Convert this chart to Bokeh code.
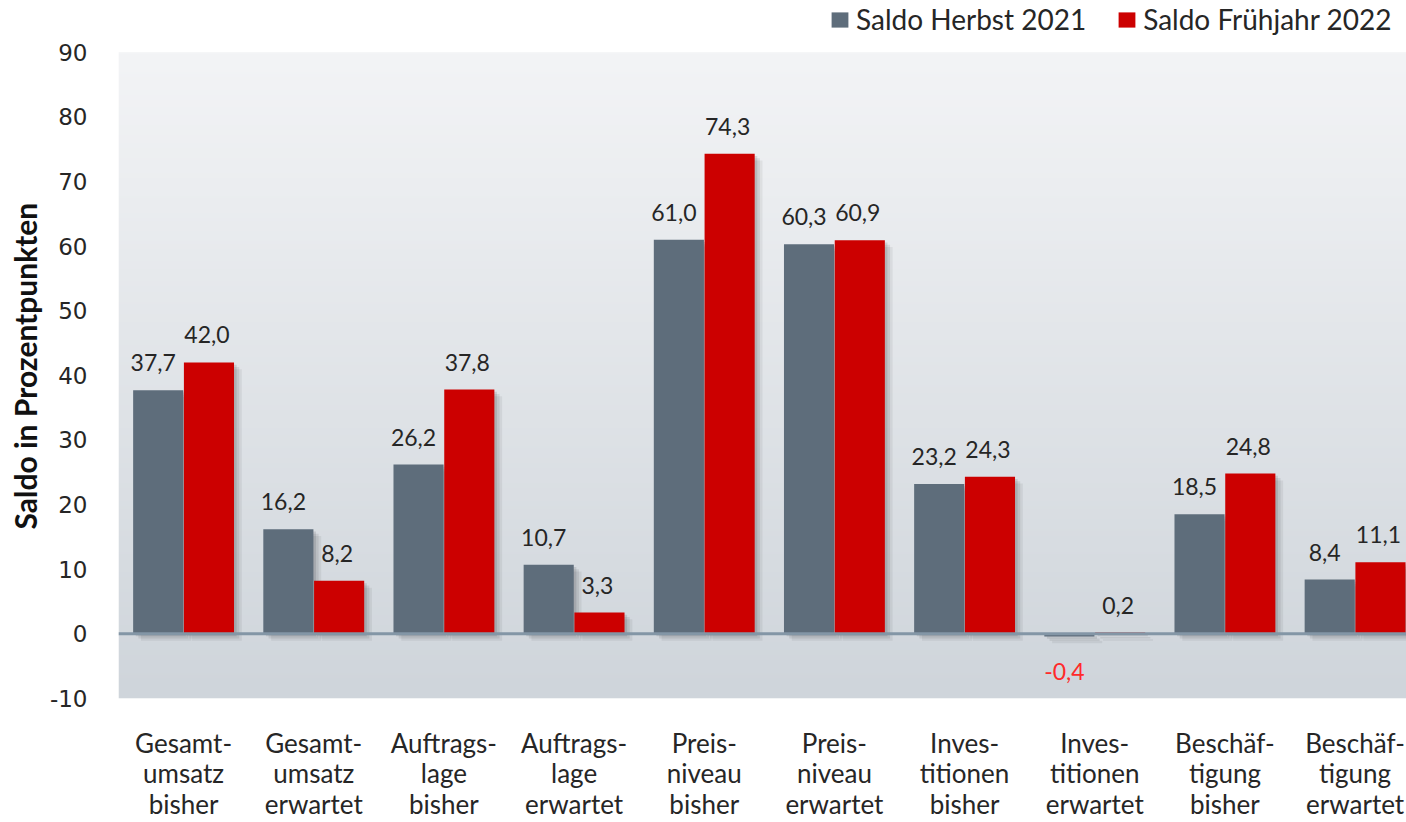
import numpy as np
from bokeh.plotting import figure
from bokeh.models import (ColumnDataSource, Legend, LegendItem, FixedTicker,
                          Span, Range1d, Title)
from bokeh.transform import dodge
from bokeh.core.properties import value
from bokeh.embed import file_html
from bokeh.resources import INLINE

# ---------------- data ----------------
categories = [
    "Gesamt-\numsatz\nbisher", "Gesamt-\numsatz\nerwartet",
    "Auftrags-\nlage\nbisher", "Auftrags-\nlage\nerwartet",
    "Preis-\nniveau\nbisher", "Preis-\nniveau\nerwartet",
    "Inves-\ntitionen\nbisher", "Inves-\ntitionen\nerwartet",
    "Beschäf-\ntigung\nbisher", "Beschäf-\ntigung\nerwartet",
]
herbst_2021 = [37.7, 16.2, 26.2, 10.7, 61.0, 60.3, 23.2, -0.4, 18.5, 8.4]
fruehjahr_2022 = [42.0, 8.2, 37.8, 3.3, 74.3, 60.9, 24.3, 0.2, 24.8, 11.1]
series_names = ["Saldo Herbst 2021", "Saldo Frühjahr 2022"]
y_ticks = [-10, 0, 10, 20, 30, 40, 50, 60, 70, 80, 90]
y_tick_labels = ["-10", "0", "10", "20", "30", "40", "50", "60", "70", "80", "90"]
y_title = "Saldo in Prozentpunkten"

GRAY = "#5e6d7b"
RED = "#cc0000"
TXT = "#262626"
LBL_FONT = value("Lato")

n = len(categories)
xc = [i + 0.5 for i in range(n)]
OFF = 0.195
BW = 0.385
Y_MIN, Y_MAX = y_ticks[0], y_ticks[-1]

# frame spans the whole top of the canvas; the shaded plot area is -10..90
p = figure(width=1406, height=822,
           x_range=Range1d(0, 9.895), y_range=Range1d(-10, 98.0),
           output_backend="svg", toolbar_location=None,
           min_border_left=117, min_border_right=0,
           min_border_top=0, min_border_bottom=120)
p.outline_line_color = None
p.border_fill_color = "white"
p.background_fill_color = "white"

# background gradient for the plot area
N = 256
t = np.linspace(0, 1, N)
bot = np.array([0xcf, 0xd5, 0xdb], dtype=float)
top = np.array([0xf3, 0xf4, 0xf6], dtype=float)
cols = bot + (top - bot) * t[:, None]
img = np.zeros((N, 1), dtype=np.uint32)
view = img.view(dtype=np.uint8).reshape((N, 1, 4))
view[:, 0, 0] = cols[:, 0]
view[:, 0, 1] = cols[:, 1]
view[:, 0, 2] = cols[:, 2]
view[:, 0, 3] = 255
p.image_rgba(image=[img], x=0, y=Y_MIN, dw=10, dh=Y_MAX - Y_MIN)

# grids
p.xgrid.ticker = FixedTicker(ticks=list(range(1, n)))
p.xgrid.grid_line_color = "white"
p.xgrid.grid_line_width = 3
p.ygrid.ticker = FixedTicker(ticks=y_ticks)
p.ygrid.grid_line_color = "white"
p.ygrid.grid_line_alpha = 0.5
p.ygrid.grid_line_width = 1.5

h = np.array(herbst_2021)
f = np.array(fruehjahr_2022)
src = ColumnDataSource(dict(x=xc, h=h, f=f))

# soft shadows
for dx, dy, a in [(0.02, 0.35, 0.10), (0.04, 0.7, 0.08), (0.06, 1.05, 0.06)]:
    for vals, off in ((h, -OFF), (f, OFF)):
        s = ColumnDataSource(dict(x=[v + off + dx for v in xc],
                                  top=np.maximum(vals, 0) - dy,
                                  bottom=np.minimum(vals, 0) - dy))
        p.vbar(x="x", top="top", bottom="bottom", width=BW, source=s,
               fill_color="black", fill_alpha=a, line_color=None)

r1 = p.vbar(x=dodge("x", -OFF, range=p.x_range), top="h", bottom=0, width=BW,
            source=src, fill_color=GRAY, line_color=None)
r2 = p.vbar(x=dodge("x", OFF, range=p.x_range), top="f", bottom=0, width=BW,
            source=src, fill_color=RED, line_color=None)

p.add_layout(Span(location=0, dimension="width", line_color="#8396a6",
                  line_width=3))

# value labels
def fmt(v):
    return f"{v:.1f}".replace(".", ",")

for vals, off, xo in ((h, -OFF, -5), (f, OFF, -2)):
    pos = [i for i in range(n) if vals[i] >= 0]
    neg = [i for i in range(n) if vals[i] < 0]
    sp = ColumnDataSource(dict(x=[xc[i] + off for i in pos],
                               y=[vals[i] for i in pos],
                               t=[fmt(vals[i]) for i in pos]))
    p.text(x="x", y="y", text="t", source=sp, x_offset=xo, y_offset=-19,
           text_align="center", text_baseline="bottom",
           text_font=LBL_FONT, text_font_size="23px", text_color=TXT)
    if neg:
        sn = ColumnDataSource(dict(x=[xc[i] + off for i in neg],
                                   y=[vals[i] for i in neg],
                                   t=[fmt(vals[i]) for i in neg]))
        p.text(x="x", y="y", text="t", source=sn, x_offset=xo, y_offset=27,
               text_align="center", text_baseline="top",
               text_font=LBL_FONT, text_font_size="23px", text_color="#ff2a2a")

# axes
p.xaxis.ticker = FixedTicker(ticks=xc)
p.xaxis.major_label_overrides = {x: c for x, c in zip(xc, categories)}
p.xaxis.axis_line_color = None
p.xaxis.major_tick_line_color = None
p.xaxis.minor_tick_line_color = None
p.xaxis.major_label_standoff = 22
p.xaxis.major_label_text_font = "Lato"
p.xaxis.major_label_text_font_size = "26px"
p.xaxis.major_label_text_line_height = 0.96
p.xaxis.major_label_text_color = TXT

p.yaxis.ticker = FixedTicker(ticks=y_ticks)
p.yaxis.major_label_overrides = {v: s for v, s in zip(y_ticks, y_tick_labels)}
p.yaxis.axis_line_color = None
p.yaxis.major_tick_line_color = None
p.yaxis.minor_tick_line_color = None
p.yaxis.major_label_standoff = 25
p.yaxis.major_label_text_font = "DejaVu Sans"
p.yaxis.major_label_text_font_size = "23px"
p.yaxis.major_label_text_color = TXT

p.add_layout(Title(text=y_title, align="left", offset=169, standoff=8,
                   text_font="Lato", text_font_style="bold",
                   text_font_size="30px", text_color="#111111"), "left")

legend = Legend(items=[LegendItem(label=series_names[0], renderers=[r1]),
                       LegendItem(label=series_names[1], renderers=[r2])],
                location=(711, 662), orientation="horizontal",
                background_fill_alpha=0, border_line_color=None,
                label_text_font="Lato", label_text_font_size="28px",
                label_text_color=TXT, glyph_width=21, glyph_height=19,
                label_standoff=6, spacing=30, padding=0, margin=0)
p.add_layout(legend)

open("out.html", "w").write(file_html(p, INLINE))
